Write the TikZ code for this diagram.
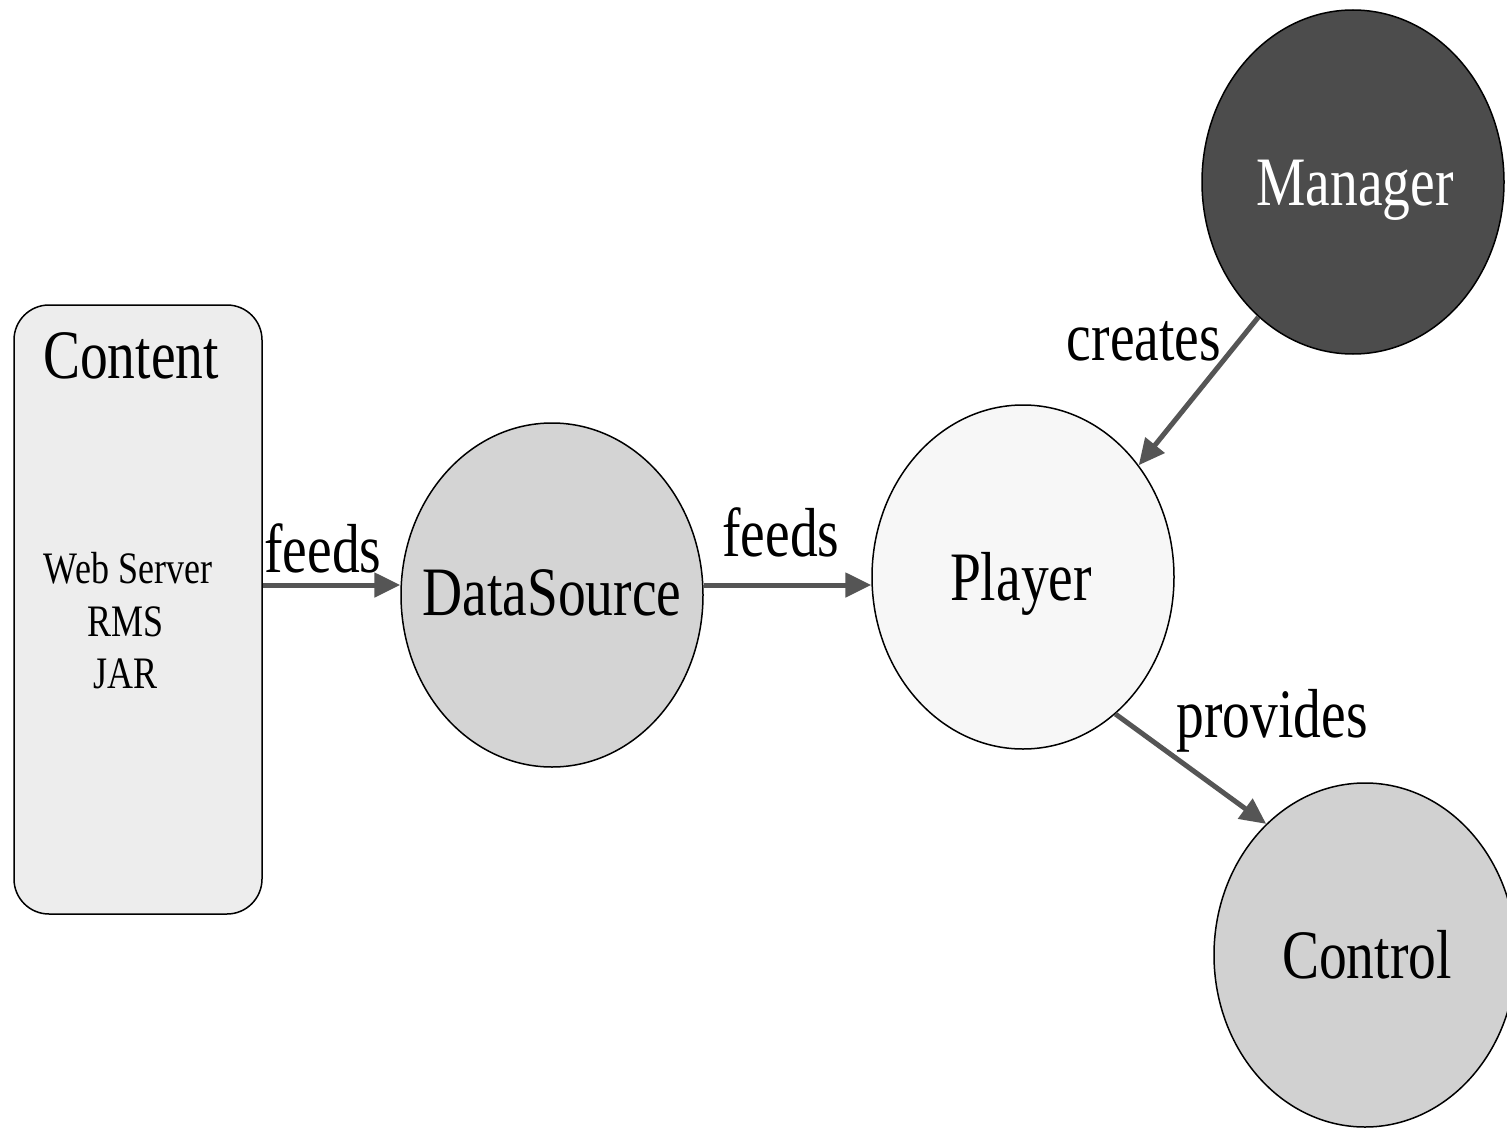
\documentclass[tikz,border=0pt]{standalone}
\usepackage{fontspec}
\setmainfont{Liberation Serif}
\usepackage{graphicx}
\usetikzlibrary{shapes.geometric,arrows.meta}
\newcommand{\bigtxt}[1]{\scalebox{1}[1.25]{\fontsize{55.5}{60}\selectfont #1}}
\newcommand{\smalltxt}[1]{\scalebox{1}[1.25]{\fontsize{36}{40}\selectfont #1}}
\definecolor{arrgray}{HTML}{555555}
\tikzset{
  blob/.style={ellipse, draw=black, line width=1.5pt, minimum width=302pt, minimum height=344pt, inner sep=0pt},
  lbl/.style={inner sep=0pt, anchor=base},
  arr/.style={draw=arrgray, line width=5pt, -{Triangle[length=26pt,width=24pt]}},
}
\begin{document}
\begin{tikzpicture}[x=1pt,y=-1pt]
\useasboundingbox (0,0) rectangle (1507,1129);
\fill[white] (0,0) rectangle (1507,1129);
% Content box
\node[draw=black, line width=1.5pt, rounded corners=35pt, fill=black!7, minimum width=248pt, minimum height=609pt, inner sep=0pt] (content) at (138,609.5) {};
\node[lbl] (contentT) at (131,378) {\bigtxt{Content}};
\node[lbl] (webT) at (128,583) {\smalltxt{Web Server}};
\node[lbl] (rmsT) at (126,636) {\smalltxt{RMS}};
\node[lbl] (jarT) at (126,688) {\smalltxt{JAR}};
% ellipses
\node[blob, fill=black!17] (ds) at (552,595) {};
\node[lbl] (dsT) at (552,615) {\bigtxt{DataSource}};
\node[blob, fill=black!3] (player) at (1023,577) {};
\node[lbl] (playerT) at (1021,600) {\bigtxt{Player}};
\node[blob, fill=black!70] (mgr) at (1353,182) {};
\node[lbl, text=white] (mgrT) at (1355,205) {\bigtxt{Manager}};
\node[blob, fill=black!18] (ctrl) at (1365,955) {};
\node[lbl] (ctrlT) at (1367,978) {\bigtxt{Control}};
% connectors
\draw[arr] ([yshift=10pt]content.east |- ds.west) -- ([yshift=10pt]ds.west);
\draw[arr] ([yshift=10pt]ds.east) -- ([yshift=-8pt]player.west);
\draw[arr] (mgr.235) -- (player.44.5);
\draw[arr] (player.304.5) -- (ctrl.127.8);
% labels
\node[lbl] (f1) at (323,572) {\bigtxt{feeds}};
\node[lbl] (f2) at (781,556) {\bigtxt{feeds}};
\node[lbl] (cr) at (1144,360) {\bigtxt{creates}};
\node[lbl] (pr) at (1272,737) {\bigtxt{provides}};
\end{tikzpicture}
\end{document}
